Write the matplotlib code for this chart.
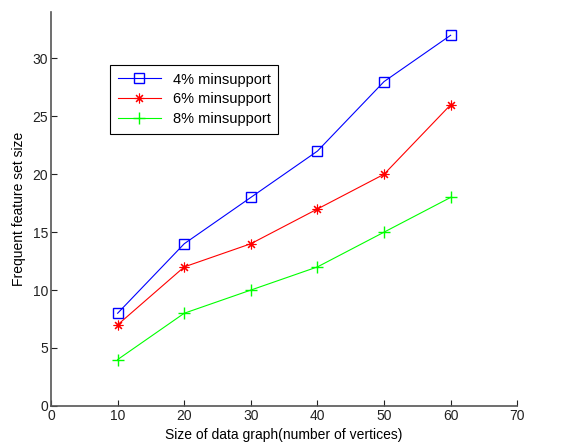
import matplotlib
matplotlib.use('Agg')
import matplotlib.pyplot as plt

plt.rcParams['font.family'] = ['Liberation Sans', 'DejaVu Sans']

vertices = [10, 20, 30, 40, 50, 60]
sup4 = [8, 14, 18, 22, 28, 32]
sup6 = [7, 12, 14, 17, 20, 26]
sup8 = [4, 8, 10, 12, 15, 18]

fig = plt.figure(figsize=(5.61, 4.48), dpi=100)
ax = fig.add_axes([0.091, 0.094, 0.831, 0.879])

ax.plot(vertices, sup4, color='#0000ff', marker='s', markersize=7, markerfacecolor='none',
        linewidth=0.8, label='4% minsupport')
ax.plot(vertices, sup6, color='#ff0000', marker=(8, 2, 0), markersize=7, markeredgewidth=0.8,
        linewidth=0.8, label='6% minsupport')
ax.plot(vertices, sup8, color='#00ff00', marker='+', markersize=9, linewidth=0.8,
        label='8% minsupport')

ax.set_xlim(0, 70)
ax.set_ylim(0, 34)
ax.set_xticks(range(0, 71, 10))
ax.set_yticks(range(0, 31, 5))
ax.spines['top'].set_visible(False)
ax.spines['right'].set_visible(False)
for s in ['left', 'bottom']:
    ax.spines[s].set_color('#555555')
    ax.spines[s].set_linewidth(1.2)
ax.tick_params(direction='in', length=4, labelsize=10, colors='#222222', pad=2)
ax.set_xlabel('Size of data graph(number of vertices)', fontsize=10, labelpad=4)
ax.set_ylabel('Frequent feature set size', fontsize=10, labelpad=5)

leg = ax.legend(loc='upper left', bbox_to_anchor=(0.127, 0.865), fancybox=False,
                edgecolor='black', fontsize=10.5, handlelength=3, borderpad=0.5,
                labelspacing=0.4, framealpha=1, borderaxespad=0)
leg.get_frame().set_linewidth(0.8)

fig.savefig('out.png', dpi=100)
